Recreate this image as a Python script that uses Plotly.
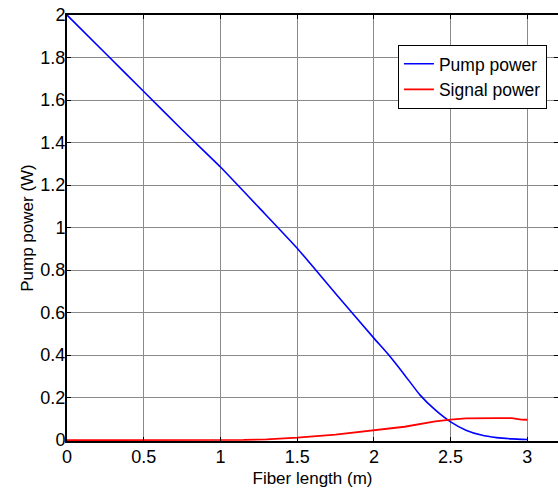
import plotly.graph_objects as go

# Data
pump_x = [0, 0.25, 0.5, 0.75, 1.0, 1.25, 1.5, 1.75, 2.0, 2.1, 2.2, 2.3, 2.4, 2.5, 2.6, 2.7, 2.8, 2.9, 3.0]
pump_y = [2.0, 1.82, 1.64, 1.46, 1.285, 1.095, 0.903, 0.69, 0.48, 0.398, 0.307, 0.213, 0.142, 0.086, 0.047, 0.024, 0.012, 0.006, 0.003]

signal_x = [0, 0.5, 1.0, 1.15, 1.3, 1.5, 1.75, 2.0, 2.2, 2.4, 2.5, 2.6, 2.7, 2.8, 2.9, 2.93, 2.96, 3.0]
signal_y = [0.0, 0.0, 0.0, 0.001, 0.004, 0.012, 0.026, 0.045, 0.063, 0.088, 0.097, 0.102, 0.104, 0.104, 0.104, 0.1, 0.097, 0.096]

x_tickvals = [0, 0.5, 1, 1.5, 2, 2.5, 3]
x_ticktext = ["0", "0.5", "1", "1.5", "2", "2.5", "3"]
y_tickvals = [0, 0.2, 0.4, 0.6, 0.8, 1.0, 1.2, 1.4, 1.6, 1.8, 2.0]
y_ticktext = ["0", "0.2", "0.4", "0.6", "0.8", "1", "1.2", "1.4", "1.6", "1.8", "2"]

FONT = "Arial, Liberation Sans, sans-serif"

fig = go.Figure()
fig.add_trace(go.Scatter(x=pump_x, y=pump_y, mode="lines", name="Pump power",
                         line=dict(color="#0000ff", width=1.6, shape="spline", smoothing=0.5)))
fig.add_trace(go.Scatter(x=signal_x, y=signal_y, mode="lines", name="Signal power",
                         line=dict(color="#ff0000", width=1.8)))

axis_common = dict(
    showline=True, linecolor="black", linewidth=2, mirror="ticks",
    ticks="inside", ticklen=4, tickcolor="black",
    showgrid=True, gridcolor="#8a8a8a", gridwidth=1,
    zeroline=False, automargin=False, ticklabeloverflow="allow",
    tickfont=dict(family=FONT, size=18, color="black"),
)

fig.update_xaxes(range=[0, 3.2], tickvals=x_tickvals, ticktext=x_ticktext,
                 ticklabelstandoff=-2,
                 title=dict(text="Fiber length (m)", font=dict(family=FONT, size=17, color="black"), standoff=7),
                 **axis_common)
fig.update_yaxes(range=[-0.004, 2], tickvals=y_tickvals, ticktext=y_ticktext,
                 ticklabelstandoff=-4,
                 title=dict(text="Pump power (W)", font=dict(family=FONT, size=17, color="black"), standoff=2),
                 **axis_common)

fig.update_layout(
    width=558, height=491,
    margin=dict(l=67, r=0, t=15, b=50),
    paper_bgcolor="white", plot_bgcolor="white",
    font=dict(family=FONT, size=17, color="black"),
    showlegend=True,
    legend=dict(x=0.674, y=0.93, xanchor="left", yanchor="top",
                bgcolor="white", bordercolor="black", borderwidth=1,
                font=dict(family=FONT, size=17.5, color="black"),
                tracegroupgap=0, itemwidth=30),
)

# Remove the browser's default 8px body margin so the figure fills the window exactly.
fig.write_html("out.html", config={"displayModeBar": False},
               post_script="document.body.style.margin='0px';")
